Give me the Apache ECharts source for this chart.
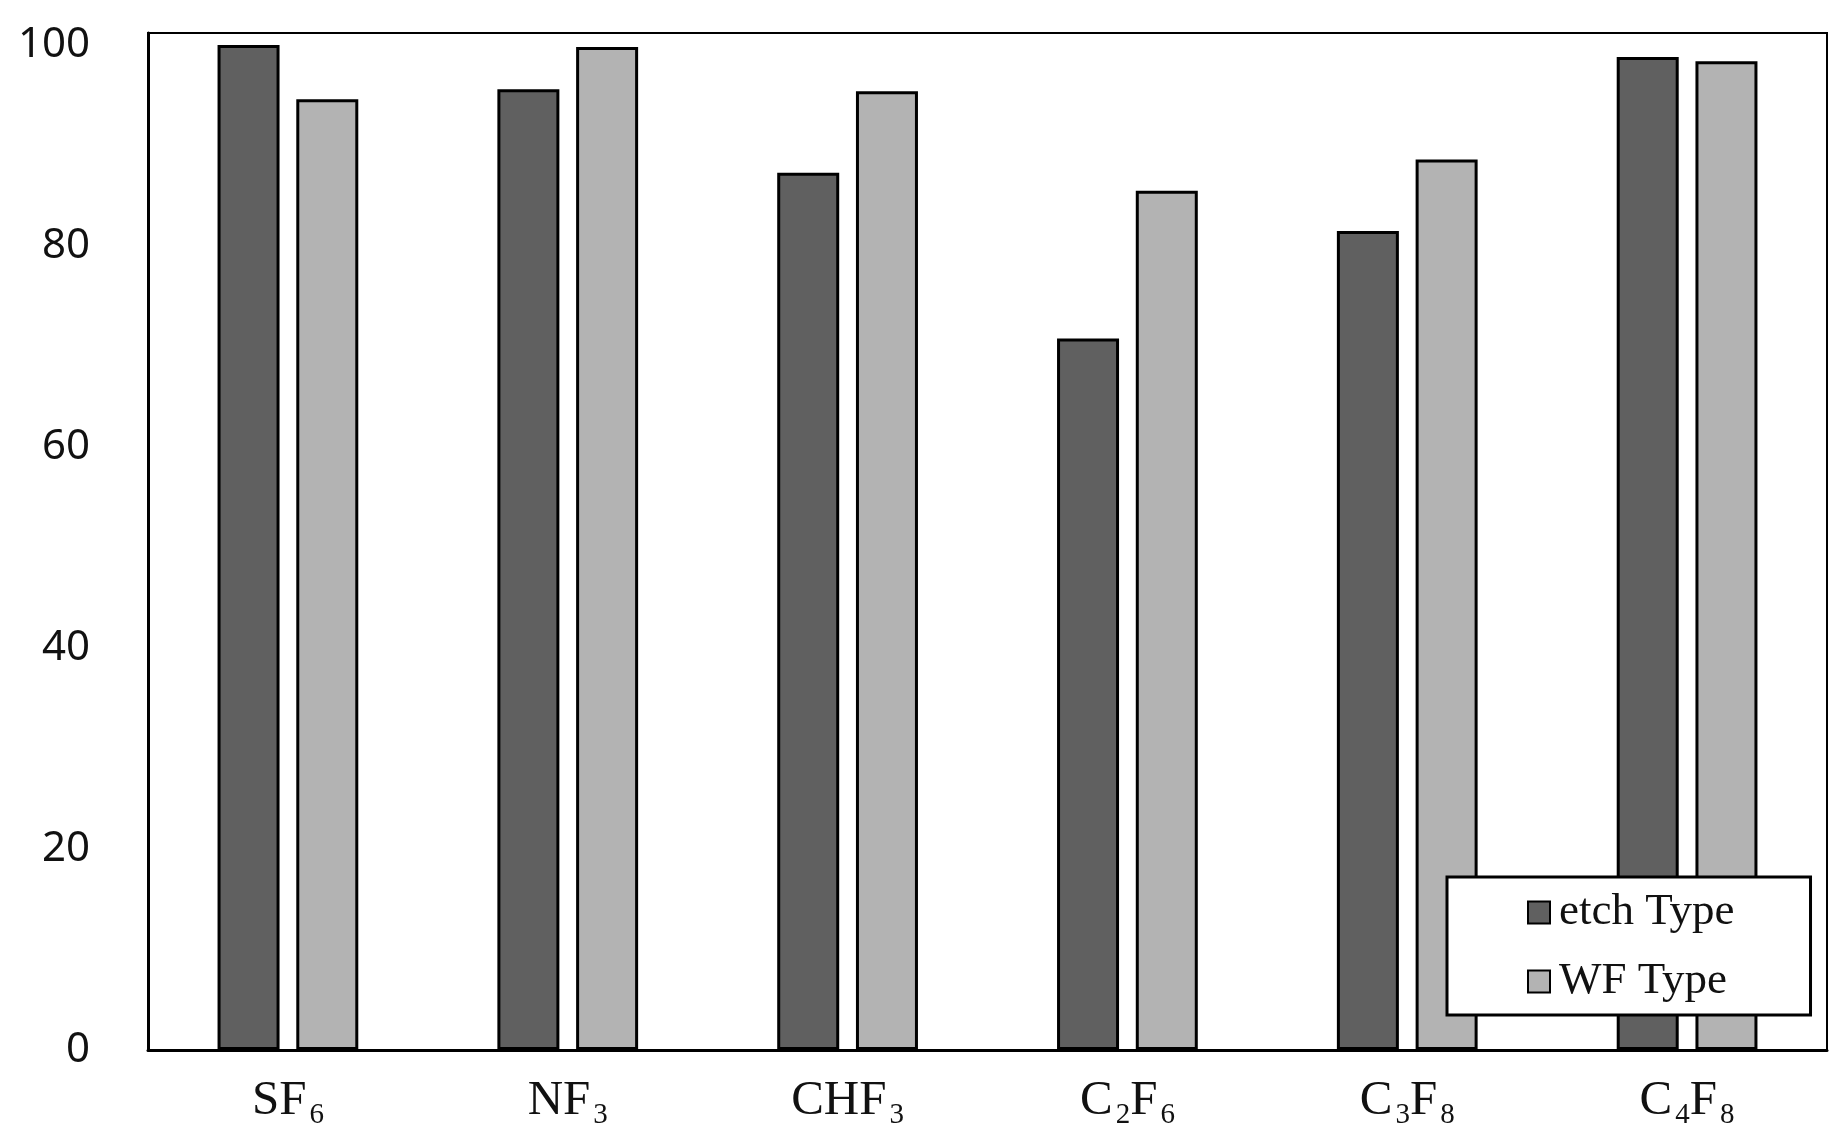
<!DOCTYPE html>
<html>
<head>
<meta charset="utf-8">
<script src="https://cdn.jsdelivr.net/npm/echarts@6/dist/echarts.min.js"></script>
<style>
html,body{margin:0;padding:0;background:#fff;}
#chart{width:1845px;height:1141px;}
</style>
</head>
<body>
<div id="chart"></div>
<script>
const categories = ['SF6', 'NF3', 'CHF3', 'C2F6', 'C3F8', 'C4F8'];
const seriesNames = ['etch Type', 'WF Type'];
const etchValues = [100.0, 95.6, 87.3, 70.8, 81.5, 98.8];
const wfValues = [94.6, 99.8, 95.4, 85.5, 88.6, 98.4];
const yTicks = [0, 20, 40, 60, 80, 100];

function toRich(name) {
  return name.replace(/([A-Za-z]+)|(\d+)/g, function (m, letters, digits) {
    return letters ? '{n|' + letters + '}' : '{s|' + digits + '}';
  });
}

const chart = echarts.init(document.getElementById('chart'), null, {renderer: 'canvas'});
const barStyle = function (color) {
  return {color: color, borderColor: '#000', borderWidth: 3};
};
chart.setOption({
  animation: false,
  backgroundColor: '#fff',
  grid: {
    left: 148, right: 18, top: 33, bottom: 91,
    show: true, borderColor: '#000', borderWidth: 2, backgroundColor: 'transparent'
  },
  legend: {
    orient: 'vertical',
    left: 1447, top: 877,
    padding: [13, 76, 11, 80],
    itemGap: 24,
    itemWidth: 22, itemHeight: 22,
    icon: 'rect',
    backgroundColor: '#fff',
    borderColor: '#000', borderWidth: 3,
    borderRadius: 0,
    textStyle: {fontFamily: 'Liberation Serif', fontSize: 45, color: '#111', padding: [0, 0, 0, 4]},
    data: seriesNames
  },
  xAxis: {
    type: 'category',
    data: categories,
    axisLine: {show: true, lineStyle: {color: '#000', width: 3}},
    axisTick: {show: false},
    axisLabel: {
      margin: 22,
      formatter: function (v) { return toRich(v); },
      rich: {
        n: {fontFamily: 'Liberation Serif', fontSize: 49, color: '#111', lineHeight: 56},
        s: {fontFamily: 'Liberation Serif', fontSize: 29, color: '#111', padding: [29, 0, 0, 3]}
      }
    }
  },
  yAxis: {
    type: 'value',
    min: 0, max: 101.2, interval: 20,
    axisLine: {show: true, lineStyle: {color: '#000', width: 3}},
    axisTick: {show: false},
    splitLine: {show: false},
    axisLabel: {
      showMaxLabel: false,
      margin: 58,
      fontFamily: 'Noto Sans', fontSize: 42, color: '#111',
      formatter: function (v) { return yTicks.indexOf(v) >= 0 ? String(v) : ''; }
    }
  },
  series: [
    {name: seriesNames[0], type: 'bar', data: etchValues, barWidth: 62, barGap: '27%', itemStyle: barStyle('#606060')},
    {name: seriesNames[1], type: 'bar', data: wfValues, barWidth: 62, barGap: '27%', itemStyle: barStyle('#b3b3b3')}
  ]
});
</script>
</body>
</html>
